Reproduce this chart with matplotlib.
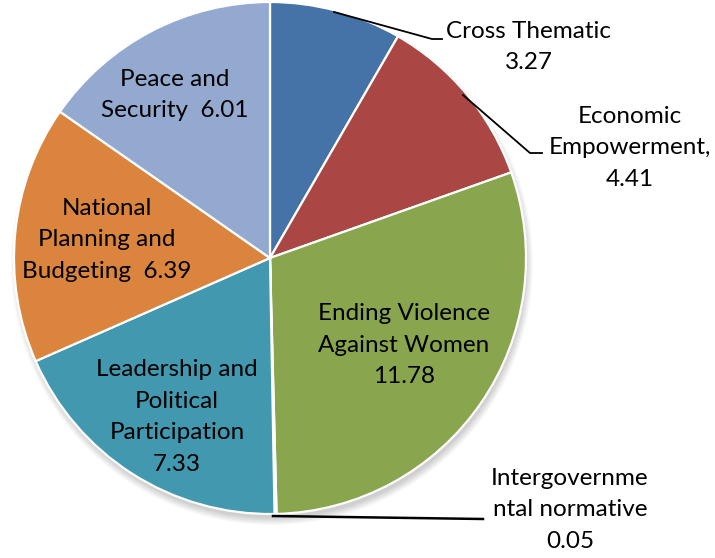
import numpy as np
import matplotlib.pyplot as plt
from matplotlib.patches import Ellipse

# Funding by thematic area
areas = ['Cross Thematic', 'Economic Empowerment', 'Ending Violence Against Women',
         'Intergovernmental normative', 'Leadership and Political Participation',
         'National Planning and Budgeting', 'Peace and Security']
amounts = [3.27, 4.41, 11.78, 0.05, 7.33, 6.39, 6.01]
colors = ['#4572A7', '#AA4643', '#89A54E', '#71588F', '#4198AF', '#DB843D', '#93A9CF']

label_text = ['Cross Thematic\n3.27', 'Economic\nEmpowerment,\n4.41',
              'Ending Violence\nAgainst Women\n11.78', 'Intergovernme\nntal normative\n0.05',
              'Leadership and\nPolitical\nParticipation\n7.33',
              'National\nPlanning and\nBudgeting  6.39', 'Peace and\nSecurity  6.01']

W, H = 715, 558
fig = plt.figure(figsize=(W / 100, H / 100), dpi=100)
ax = fig.add_axes([0, 0, 1, 1])

cx, cy, r = 270, 258, 256

# soft shadow under the pie
for k in range(8):
    ax.add_patch(Ellipse((cx + 2, cy + 6), 2 * r + 10 - k * 2, 2 * r + 10 - k * 2,
                         color='black', alpha=0.025, lw=0, zorder=1))

# y axis is flipped: start at -90 (top of screen), counterclock runs clockwise on screen
ax.pie(amounts, colors=colors, startangle=-90, counterclock=True,
       center=(cx, cy), radius=r, frame=True,
       wedgeprops=dict(edgecolor='white', linewidth=1.6, zorder=2))
ax.set_xlim(0, W)
ax.set_ylim(H, 0)
ax.set_aspect('equal')
ax.axis('off')

font = dict(family='Lato', fontsize=17.5, color='black', ha='center', va='center',
            linespacing=1.62, zorder=5)

# labels inside the slices
ax.text(404, 345, label_text[2], **font)
ax.text(177, 417, label_text[4], **font)
ax.text(107, 240, label_text[5], **font)
ax.text(175, 95, label_text[6], **font)

# outside labels with leader lines
ax.text(529, 47, label_text[0], **font)
ax.plot([334, 432, 442], [12, 39, 39], color='black', lw=1.3, zorder=4)

ax.text(630, 148, label_text[1], **font)
ax.plot([463, 530, 542], [95, 153, 153], color='black', lw=1.3, zorder=4)

ax.text(570, 510, label_text[3], **font)
ax.plot([273, 483], [516, 519], color='black', lw=1.8, zorder=4)

fig.savefig('out.png', dpi=100)
